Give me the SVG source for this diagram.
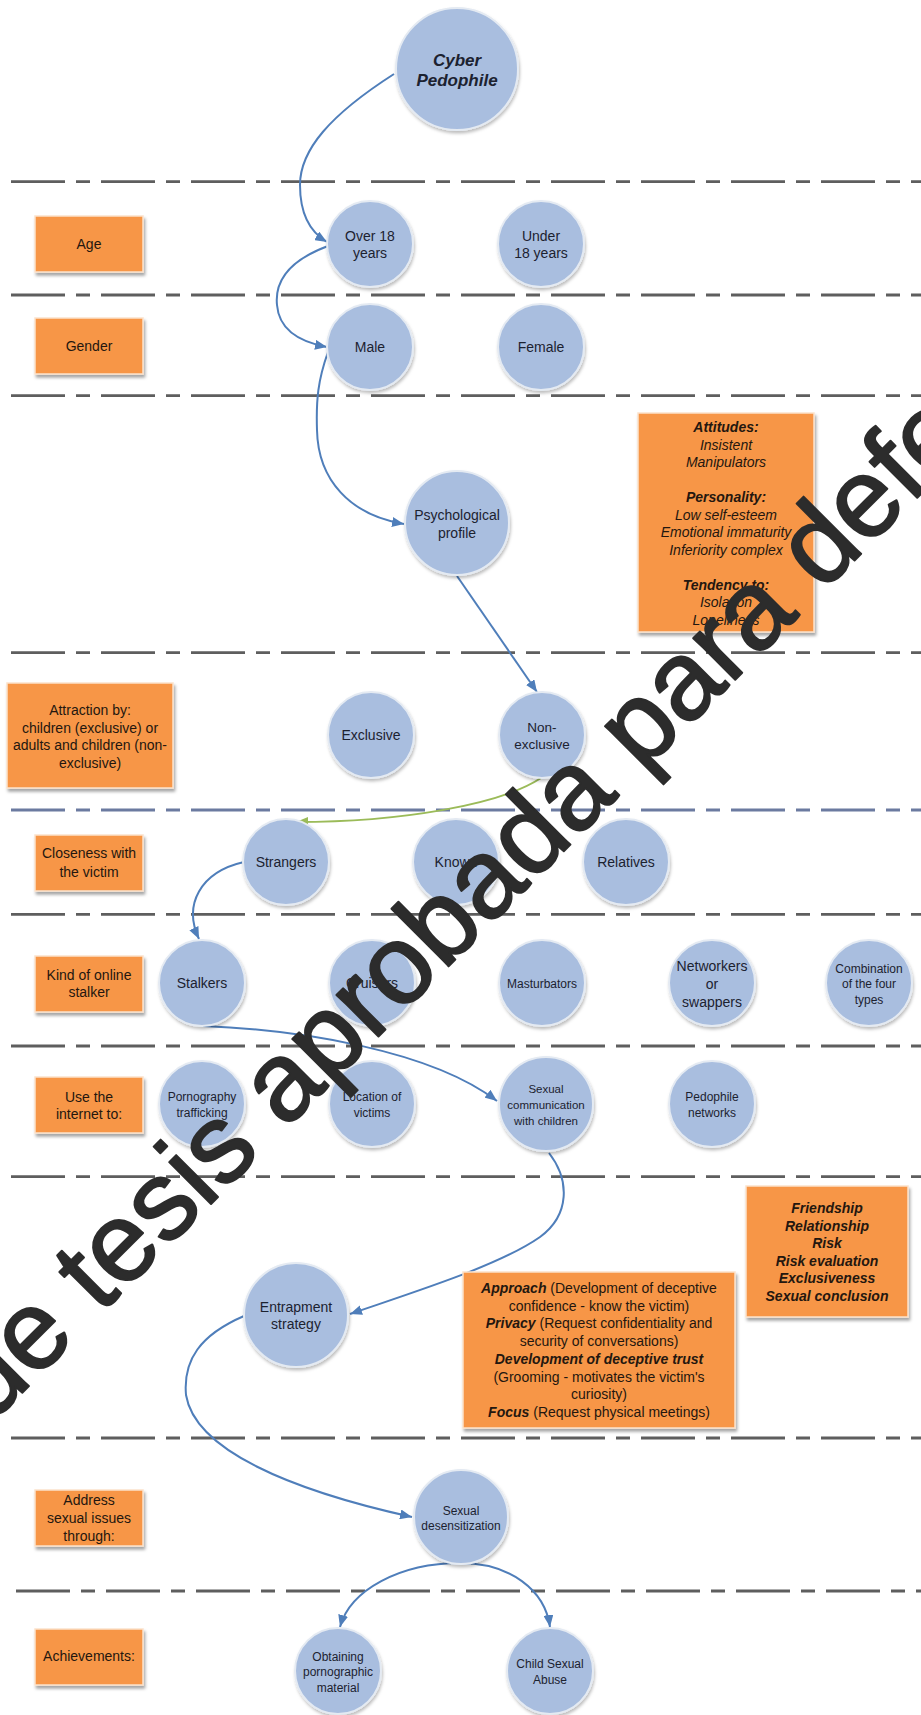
<svg xmlns="http://www.w3.org/2000/svg" width="921" height="1715" viewBox="0 0 921 1715">
<style>
.bg{fill:#ffffff}
.box{fill:#F79646;stroke:#FBE2CC;stroke-width:1.5;filter:url(#sh)}
.node{fill:#A9BEDF;stroke:#E4EAF2;stroke-width:2;filter:url(#sh2)}
.t{font-family:"Liberation Sans",Arial,sans-serif;font-size:14px;fill:#1c2230;text-anchor:middle}
.bt{fill:#24170f}
.s{font-size:12px}
.bi{font-weight:bold;font-style:italic}
.i{font-style:italic}
.dash{stroke:#5e5e5e;stroke-width:2.8;stroke-dasharray:54 11 14 11;fill:none}
.dashb{stroke:#6b7aa0}
.conn{stroke:#4F7EBA;stroke-width:2;fill:none;marker-end:url(#ah)}
.green{stroke:#9BBB59;stroke-width:2;fill:none;marker-end:url(#ag)}
.wm{font-family:"Liberation Sans",Arial,sans-serif;font-size:112px;fill:#2c2c2c;stroke:#2c2c2c;stroke-width:2;stroke-linejoin:round}
</style>
<defs>
<filter id="sh" x="-20%" y="-20%" width="140%" height="160%">
<feDropShadow dx="1.5" dy="3" stdDeviation="1.8" flood-color="#000" flood-opacity="0.35"/>
</filter>
<filter id="sh2" x="-20%" y="-20%" width="140%" height="150%">
<feDropShadow dx="1" dy="2.5" stdDeviation="1.6" flood-color="#000" flood-opacity="0.25"/>
</filter>
<marker id="ah" viewBox="0 0 12 10" refX="12" refY="5" markerWidth="12" markerHeight="10" markerUnits="userSpaceOnUse" orient="auto">
<path d="M0,0 L12,5 L0,10 z" fill="#4F7EBA"/>
</marker>
<marker id="ag" viewBox="0 0 12 10" refX="12" refY="5" markerWidth="12" markerHeight="10" markerUnits="userSpaceOnUse" orient="auto">
<path d="M0,0 L12,5 L0,10 z" fill="#9BBB59"/>
</marker>
</defs>
<rect class="bg" x="0" y="0" width="921" height="1715"/>

<g id="separators">
<line class="dash" x1="11" y1="181.7" x2="921" y2="181.7"/>
<line class="dash" x1="11" y1="295" x2="921" y2="295"/>
<line class="dash" x1="11" y1="395.7" x2="921" y2="395.7"/>
<line class="dash" x1="11" y1="652.7" x2="921" y2="652.7"/>
<line class="dash dashb" x1="11" y1="810" x2="921" y2="810"/>
<line class="dash" x1="11" y1="914.3" x2="921" y2="914.3"/>
<line class="dash" x1="11" y1="1046" x2="921" y2="1046"/>
<line class="dash" x1="11" y1="1176.7" x2="921" y2="1176.7"/>
<line class="dash" x1="11" y1="1438" x2="921" y2="1438"/>
<line class="dash" x1="16" y1="1591" x2="921" y2="1591"/>
</g>

<g id="connectors">
<path class="conn" d="M394,74 C330,115 300,150 300,185 C300,215 310,232 327,242"/>
<path class="conn" d="M328,246 C285,262 275,285 277,305 C279,330 300,342 327,347"/>
<path class="conn" d="M328,352 C318,380 316,400 317,430 C318,480 350,515 404,524"/>
<path class="conn" d="M457,576 L537,692"/>
<path class="green" d="M541,778 C500,805 400,822 296,822"/>
<path class="conn" d="M244,862 C200,872 183,905 199,939"/>
<path class="conn" d="M203,1026 C300,1030 430,1050 497,1101"/>
<path class="conn" d="M549,1153 C570,1180 570,1215 540,1237 C500,1265 420,1290 350,1314"/>
<path class="conn" d="M244,1316 C200,1335 183,1360 186,1395 C195,1450 290,1490 412,1517"/>
<path class="conn" d="M460,1563 C400,1563 350,1590 340,1627"/>
<path class="conn" d="M460,1563 C510,1563 545,1590 550,1627"/>
</g>

<g id="cyber-pedophile">
<circle class="node" cx="457" cy="69" r="61"/>
<text class="t bi" style="font-size:17px" x="457" y="66">Cyber</text>
<text class="t bi" style="font-size:17px" x="457" y="86">Pedophile</text>
</g>
<g id="over-18">
<circle class="node" cx="370" cy="244" r="43"/>
<text class="t" x="370" y="241">Over 18</text>
<text class="t" x="370" y="258">years</text>
</g>
<g id="under-18">
<circle class="node" cx="541" cy="244" r="43"/>
<text class="t" x="541" y="241">Under</text>
<text class="t" x="541" y="258">18 years</text>
</g>
<g id="male">
<circle class="node" cx="370" cy="347" r="43"/>
<text class="t" x="370" y="352">Male</text>
</g>
<g id="female">
<circle class="node" cx="541" cy="347" r="43"/>
<text class="t" x="541" y="352">Female</text>
</g>
<g id="psychological-profile">
<circle class="node" cx="457" cy="523" r="52"/>
<text class="t" x="457" y="520">Psychological</text>
<text class="t" x="457" y="538">profile</text>
</g>
<g id="exclusive">
<circle class="node" cx="371" cy="735" r="43"/>
<text class="t" x="371" y="740">Exclusive</text>
</g>
<g id="non-exclusive">
<circle class="node" cx="542" cy="735" r="43"/>
<text class="t" style="font-size:13.5px" x="542" y="732">Non-</text>
<text class="t" style="font-size:13.5px" x="542" y="749">exclusive</text>
</g>
<g id="strangers">
<circle class="node" cx="286" cy="862" r="43"/>
<text class="t" x="286" y="867">Strangers</text>
</g>
<g id="known">
<circle class="node" cx="456" cy="862" r="43"/>
<text class="t" x="456" y="867">Known</text>
</g>
<g id="relatives">
<circle class="node" cx="626" cy="862" r="43"/>
<text class="t" x="626" y="867">Relatives</text>
</g>
<g id="stalkers">
<circle class="node" cx="202" cy="983" r="43"/>
<text class="t" x="202" y="988">Stalkers</text>
</g>
<g id="cruisers">
<circle class="node" cx="372" cy="983" r="43"/>
<text class="t" x="372" y="988">Cruisers</text>
</g>
<g id="masturbators">
<circle class="node" cx="542" cy="983" r="43"/>
<text class="t s" x="542" y="987.5">Masturbators</text>
</g>
<g id="networkers">
<circle class="node" cx="712" cy="983" r="43"/>
<text class="t" x="712" y="971">Networkers</text>
<text class="t" x="712" y="989">or</text>
<text class="t" x="712" y="1007">swappers</text>
</g>
<g id="combination">
<circle class="node" cx="869" cy="983" r="43"/>
<text class="t s" x="869" y="972.5">Combination</text>
<text class="t s" x="869" y="988">of the four</text>
<text class="t s" x="869" y="1003.5">types</text>
</g>
<g id="pornography-trafficking">
<circle class="node" cx="202" cy="1104" r="43"/>
<text class="t s" x="202" y="1101">Pornography</text>
<text class="t s" x="202" y="1116.5">trafficking</text>
</g>
<g id="location-of-victims">
<circle class="node" cx="372" cy="1104" r="43"/>
<text class="t s" x="372" y="1101">Location of</text>
<text class="t s" x="372" y="1116.5">victims</text>
</g>
<g id="sexual-communication">
<circle class="node" cx="546" cy="1104" r="47"/>
<text class="t" style="font-size:11.5px" x="546" y="1092.5">Sexual</text>
<text class="t" style="font-size:11.5px" x="546" y="1109">communication</text>
<text class="t" style="font-size:11.5px" x="546" y="1124.5">with children</text>
</g>
<g id="pedophile-networks">
<circle class="node" cx="712" cy="1104" r="43"/>
<text class="t s" x="712" y="1101">Pedophile</text>
<text class="t s" x="712" y="1116.5">networks</text>
</g>
<g id="entrapment-strategy">
<circle class="node" cx="296" cy="1315" r="52"/>
<text class="t" x="296" y="1312">Entrapment</text>
<text class="t" x="296" y="1329">strategy</text>
</g>
<g id="sexual-desensitization">
<circle class="node" cx="461" cy="1517" r="47"/>
<text class="t s" x="461" y="1514.5">Sexual</text>
<text class="t s" x="461" y="1529.5">desensitization</text>
</g>
<g id="obtaining-material">
<circle class="node" cx="338" cy="1671" r="43"/>
<text class="t s" x="338" y="1660.5">Obtaining</text>
<text class="t s" x="338" y="1676">pornographic</text>
<text class="t s" x="338" y="1691.5">material</text>
</g>
<g id="child-sexual-abuse">
<circle class="node" cx="550" cy="1671" r="43"/>
<text class="t s" x="550" y="1667.5">Child Sexual</text>
<text class="t s" x="550" y="1683.5">Abuse</text>
</g>

<g id="label-age">
<rect class="box" x="35" y="216" width="108" height="56"/>
<text class="t bt" x="89" y="248.5">Age</text>
</g>
<g id="label-gender">
<rect class="box" x="35" y="318" width="108" height="56"/>
<text class="t bt" x="89" y="350.5">Gender</text>
</g>
<g id="attitudes-box">
<rect class="box" x="638" y="413" width="176" height="219"/>
<text class="t bt bi" x="726" y="432">Attitudes:</text>
<text class="t bt i" x="726" y="449.5">Insistent</text>
<text class="t bt i" x="726" y="467">Manipulators</text>
<text class="t bt bi" x="726" y="502">Personality:</text>
<text class="t bt i" x="726" y="519.5">Low self-esteem</text>
<text class="t bt i" x="726" y="537">Emotional immaturity</text>
<text class="t bt i" x="726" y="554.5">Inferiority complex</text>
<text class="t bt bi" x="726" y="589.5">Tendency to:</text>
<text class="t bt i" x="726" y="607">Isolation</text>
<text class="t bt i" x="726" y="624.5">Loneliness</text>
</g>
<g id="label-attraction">
<rect class="box" x="7" y="683" width="166" height="105"/>
<text class="t bt" x="90" y="715">Attraction by:</text>
<text class="t bt" x="90" y="733">children (exclusive) or</text>
<text class="t bt" x="90" y="750">adults and children (non-</text>
<text class="t bt" x="90" y="768">exclusive)</text>
</g>
<g id="label-closeness">
<rect class="box" x="35" y="835" width="108" height="56"/>
<text class="t bt" x="89" y="858">Closeness with</text>
<text class="t bt" x="89" y="876.5">the victim</text>
</g>
<g id="label-kind">
<rect class="box" x="35" y="956" width="108" height="56"/>
<text class="t bt" x="89" y="980">Kind of online</text>
<text class="t bt" x="89" y="997">stalker</text>
</g>
<g id="label-use">
<rect class="box" x="35" y="1077" width="108" height="56"/>
<text class="t bt" x="89" y="1102">Use the</text>
<text class="t bt" x="89" y="1119">internet to:</text>
</g>
<g id="friendship-box">
<rect class="box" x="746" y="1186" width="162" height="131"/>
<text class="t bt bi" x="827" y="1213">Friendship</text>
<text class="t bt bi" x="827" y="1231">Relationship</text>
<text class="t bt bi" x="827" y="1248">Risk</text>
<text class="t bt bi" x="827" y="1266">Risk evaluation</text>
<text class="t bt bi" x="827" y="1283">Exclusiveness</text>
<text class="t bt bi" x="827" y="1301">Sexual conclusion</text>
</g>
<g id="approach-box">
<rect class="box" x="463" y="1272" width="272" height="156"/>
<text class="t bt" x="599" y="1293"><tspan class="bi">Approach</tspan> (Development of deceptive</text>
<text class="t bt" x="599" y="1310.7">confidence - know the victim)</text>
<text class="t bt" x="599" y="1328.4"><tspan class="bi">Privacy</tspan> (Request confidentiality and</text>
<text class="t bt" x="599" y="1346.1">security of conversations)</text>
<text class="t bt bi" x="599" y="1363.8">Development of deceptive trust</text>
<text class="t bt" x="599" y="1381.5">(Grooming - motivates the victim's</text>
<text class="t bt" x="599" y="1399.2">curiosity)</text>
<text class="t bt" x="599" y="1416.9"><tspan class="bi">Focus</tspan> (Request physical meetings)</text>
</g>
<g id="label-address">
<rect class="box" x="35" y="1490" width="108" height="56"/>
<text class="t bt" x="89" y="1505">Address</text>
<text class="t bt" x="89" y="1523">sexual issues</text>
<text class="t bt" x="89" y="1541">through:</text>
</g>
<g id="label-achievements">
<rect class="box" x="35" y="1629" width="108" height="56"/>
<text class="t bt" x="89" y="1661">Achievements:</text>
</g>

<g id="watermark">
<text class="wm" x="-10" y="1425" transform="rotate(-45 -10 1425)">de tesis aprobada para defe</text>
</g>
</svg>
